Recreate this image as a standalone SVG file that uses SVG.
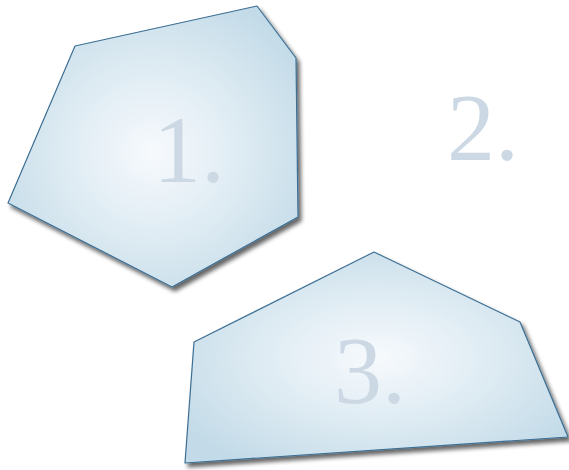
<svg xmlns="http://www.w3.org/2000/svg" width="569" height="470" viewBox="0 0 569 470">
<defs>
<radialGradient id="g1" cx="0.5" cy="0.52" r="0.6">
<stop offset="0" stop-color="#f7fafd"/>
<stop offset="0.55" stop-color="#dceaf2"/>
<stop offset="1" stop-color="#c3dbe8"/>
</radialGradient>
<radialGradient id="g3" cx="0.5" cy="0.5" r="0.6">
<stop offset="0" stop-color="#f7fafd"/>
<stop offset="0.55" stop-color="#dceaf2"/>
<stop offset="1" stop-color="#c3dbe8"/>
</radialGradient>
<filter id="sh" x="-10%" y="-10%" width="125%" height="125%">
<feGaussianBlur in="SourceAlpha" stdDeviation="2.2"/>
<feOffset dx="3" dy="4" result="b"/>
<feComponentTransfer><feFuncA type="linear" slope="0.6"/></feComponentTransfer>
<feMerge><feMergeNode/><feMergeNode in="SourceGraphic"/></feMerge>
</filter>
</defs>
<style>
.shape{stroke:#3d6f94;stroke-width:1.2;stroke-linejoin:round;filter:url(#sh)}
.lbl{font-size:96px;fill:#ccd9e5}
</style>
<g id="node1">
<polygon class="shape" fill="url(#g1)" points="75,46 257,6 296,58 298,217 172,287 8,203"/>
<text class="lbl" font-family="Liberation Serif, Times New Roman, serif" x="153" y="182">1.</text>
</g>
<g id="node2">
<text class="lbl" font-family="Liberation Serif, Times New Roman, serif" x="447" y="160">2.</text>
</g>
<g id="node3">
<polygon class="shape" fill="url(#g3)" points="374,252 520,322 568,437 185,463 194,342"/>
<text class="lbl" font-family="Liberation Serif, Times New Roman, serif" x="334" y="403">3.</text>
</g>
<g id="connectors"/>
</svg>
